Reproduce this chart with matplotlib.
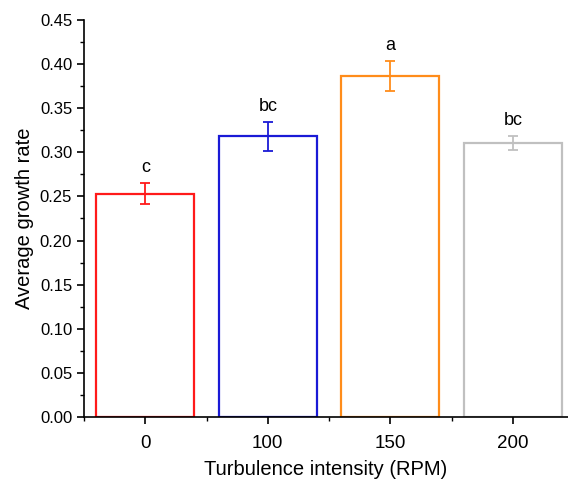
import matplotlib.pyplot as plt
import numpy as np
from matplotlib.ticker import MultipleLocator

plt.rcParams['font.family'] = ['Liberation Sans', 'DejaVu Sans']

categories = ['0', '100', '150', '200']
growth = [0.253, 0.318, 0.387, 0.311]
err = [0.012, 0.016, 0.017, 0.008]
letters = ['c', 'bc', 'a', 'bc']
colors = ['#ff1a1a', '#1a1ad6', '#ff8c1a', '#c0c0c0']

fig = plt.figure(figsize=(5.68, 4.84), dpi=100)
ax = fig.add_axes([84 / 568, 1 - 417 / 484, 1 - 84 / 568, 397 / 484])

x = np.arange(len(categories))
ax.bar(x, growth, width=0.8, facecolor='white', edgecolor=colors, linewidth=1.6)
for i in range(len(x)):
    ax.errorbar(x[i], growth[i], yerr=err[i], color=colors[i], capsize=3.5,
                elinewidth=1.3, capthick=1.3)
    ax.text(x[i], growth[i] + err[i] + 0.008, letters[i], ha='center', va='bottom',
            fontsize=13)

ax.set_xlim(-0.5, 3.45)
ax.set_ylim(0, 0.45)
ax.set_xticks(x)
ax.set_xticklabels(categories)
ax.xaxis.set_minor_locator(MultipleLocator(0.5))
ax.yaxis.set_major_locator(MultipleLocator(0.05))
ax.yaxis.set_minor_locator(MultipleLocator(0.025))
ax.yaxis.set_major_formatter(plt.FormatStrFormatter('%.2f'))

ax.spines['top'].set_visible(False)
ax.spines['right'].set_visible(False)
ax.spines['left'].set_linewidth(1.2)
ax.spines['bottom'].set_linewidth(1.2)
ax.tick_params(which='major', length=5, width=1.2)
ax.tick_params(which='minor', length=3, width=1.0)
ax.tick_params(axis='y', labelsize=12)
ax.tick_params(axis='x', labelsize=13.5, pad=8)

ax.set_xlabel('Turbulence intensity (RPM)', fontsize=14.5, labelpad=6)
ax.set_ylabel('Average growth rate', fontsize=14.5, labelpad=4)

fig.savefig('out.png', dpi=100)
